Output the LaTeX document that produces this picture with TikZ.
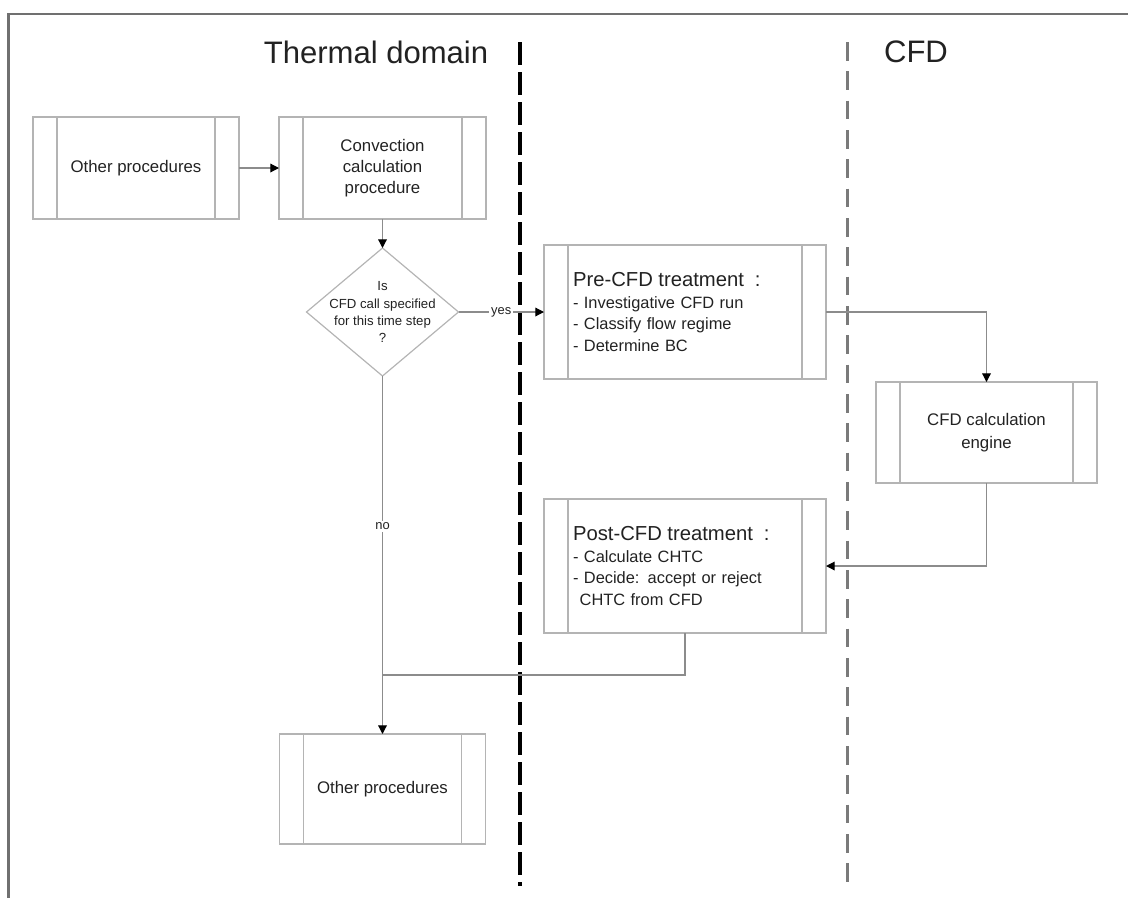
\documentclass[tikz,border=0pt]{standalone}
\usepackage{fontspec}
\setmainfont{Liberation Sans}
\usetikzlibrary{shapes.geometric,arrows.meta,calc}
\definecolor{boxgray}{HTML}{B4B4B4}
\definecolor{linegray}{HTML}{8C8C8C}
\definecolor{framegray}{HTML}{707070}
\definecolor{dashgray}{HTML}{7A7A7A}
\definecolor{inkgray}{HTML}{222222}
\newcommand\headfont{\fontsize{15.2}{18}\selectfont}
\begin{document}
\begin{tikzpicture}[x=0.75pt,y=-0.75pt,
  % predefined-process box: rectangle with two inner side bars
  proc/.style={draw=boxgray, line width=0.9pt, rectangle, inner sep=0pt, outer sep=0pt,
    text=inkgray, align=center, font=\fontsize{12.6}{16}\selectfont,
    path picture={
      \draw[boxgray, line width=0.9pt]
        ([xshift=18pt]path picture bounding box.north west) -- ([xshift=18pt]path picture bounding box.south west)
        ([xshift=-18pt]path picture bounding box.north east) -- ([xshift=-18pt]path picture bounding box.south east);
    }},
  listbox/.style={proc, align=left, text width=168pt, inner xsep=21.75pt,
    minimum width=211.5pt, minimum height=100.5pt, font=\fontsize{12.3}{16.2}\selectfont},
  decide/.style={draw=boxgray, line width=0.9pt, diamond, minimum width=114pt, minimum height=96pt,
    inner sep=0pt, outer sep=0pt},
  flow/.style={draw=linegray, line width=0.9pt},
  arr/.style={flow, -{Triangle[width=6.5pt,length=6.5pt,color=black]}},
  lbl/.style={fill=white, inner sep=1.5pt, text=inkgray, font=\fontsize{9.7}{11}\selectfont},
  title/.style={text=inkgray, font=\fontsize{23.3}{28}\selectfont}
]
\useasboundingbox (0,0) rectangle (1128,897);

% outer frame (top and left edges)
\draw[framegray, line width=1.8pt] (1132,14) -- (8.5,14) -- (8.5,901);

% swimlane separators
\draw[black, line width=2.3pt, dash pattern=on 17pt off 5.5pt] (520,42) -- (520,886);
\draw[dashgray, line width=1.6pt, dash pattern=on 14pt off 8pt] (847.5,42) -- (847.5,886);

% lane titles
\node[title] (thermal) at (376,52) {Thermal domain};
\node[title] (cfd) at (916,52) {CFD};

% process boxes
\node[proc, minimum width=154.5pt, minimum height=76.5pt] (op1) at (136,168) {Other procedures};
\node[proc, minimum width=155.25pt, minimum height=76.5pt] (conv) at (382.5,168) {Convection\\calculation\\procedure};
\node[decide, label={[align=center, text=inkgray, font=\fontsize{9.9}{12.8}\selectfont]center:{Is\\CFD call specified\\for this time step\\?}}] (dec) at (382.5,312) {};
\node[listbox] (pre) at (685,312) {{\headfont Pre-CFD treatment~~:}\\- Investigative CFD run\\- Classify flow regime\\- Determine BC};
\node[proc, minimum width=165.75pt, minimum height=75.75pt, font=\fontsize{12.6}{17.2}\selectfont] (eng) at (986.5,432.5) {CFD calculation\\engine};
\node[listbox] (post) at (685,566) {{\headfont Post-CFD treatment~~:}\\- Calculate CHTC\\- Decide: accept or reject\\\hspace*{5pt}CHTC from CFD};
\node[proc, minimum width=154.5pt, minimum height=82.5pt] (op2) at (382.5,789) {Other procedures};

% connectors
\coordinate (merge) at (382.5,675);
\draw[arr] (op1) -- (conv);
\draw[arr] (conv.south) -- (dec.north);
\draw[arr] (dec.east) -- node[lbl] {yes} (pre.west);
\draw[arr] (pre.east) -| (eng.north);
\draw[arr] (eng.south) |- (post.east);
\draw[arr] (dec.south) -- node[lbl, pos=0.42] {no} (op2.north);
\draw[flow] (post.south) |- (merge);
\end{tikzpicture}
\end{document}
